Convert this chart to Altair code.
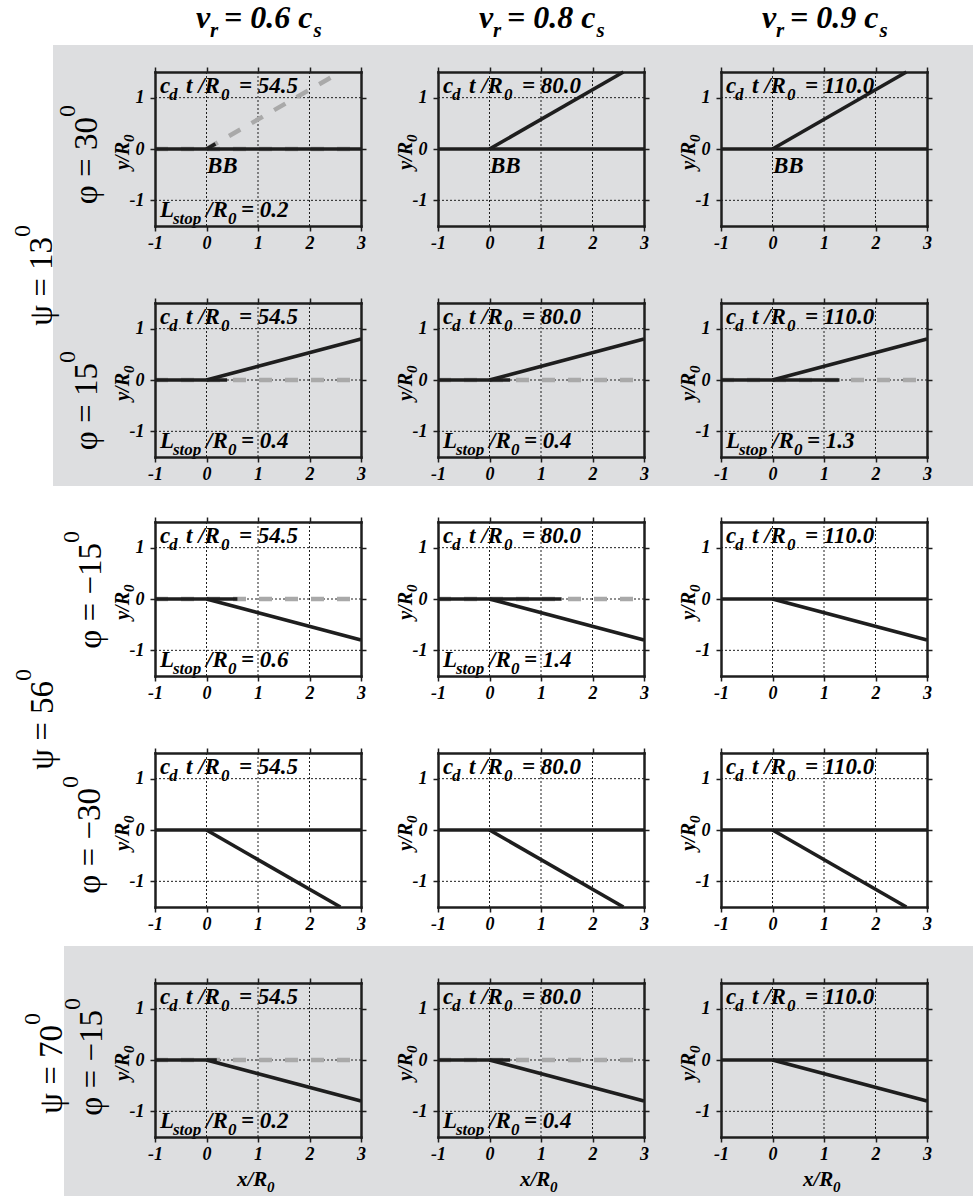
import math

import altair as alt
import pandas as pd

# ---- values ---------------------------------------------------------------
rupture_speed = ["0.6", "0.8", "0.9"]           # v_r / c_s, one per column
elapsed_time = ["54.5", "80.0", "110.0"]         # c_d t / R_0, one per column
row_psi = [13, 13, 56, 56, 70]                   # psi (degrees), one per row
row_phi = [30, 15, -15, -30, -15]                # phi (degrees), one per row
branch_end_x = [2.6, 3.0, 3.0, 2.6, 3.0]         # where the branch leaves the frame
branch_end_y = [1.5, 0.8, -0.8, -1.5, -0.8]
stop_length = [                                   # L_stop / R_0 (None: rupture kept going)
    [0.2, None, None],
    [0.4, 0.4, 1.3],
    [0.6, 1.4, None],
    [None, None, None],
    [0.2, 0.4, None],
]
stopping_fault = ["branch", "main", "main", "main", "main"]
bb_rows = [0]
x_ticks = [-1, 0, 1, 2, 3]
y_ticks = [-1, 0, 1]
grid_x = [0, 1, 2]
grid_y = [-1, 0, 1]
x_domain = [-1, 3]
y_domain = [-1.5, 1.5]
main_fault_x = [-1, 3]

# ---- layout ---------------------------------------------------------------
W, H = 973, 1196
PW, PH = 206, 154
COL_X = [155, 438, 721]
ROW_Y = [72, 303, 522, 753, 983]
FONT = "'Times New Roman', 'Liberation Serif', 'DejaVu Serif', serif"
INK = "#1e1e1e"
GRAY = "#a9a9a9"
BAND = "#dddee0"

# Times bold-italic advance widths (per em) for placing subscripts
BI_WIDTH = {" ": .25, "-": .333, ".": .25, "/": .278, "=": .57, "B": .667, "L": .611,
            "R": .667, "c": .444, "d": .5, "o": .5, "p": .5, "s": .389, "t": .278,
            "r": .389, "v": .444, "x": .5, "y": .444}


def text_width(s, size):
    return sum(BI_WIDTH.get(ch, .5) for ch in s) * size


pieces = []


def put(text, x, y, size, angle=0, align="left", style="bi"):
    pieces.append(dict(text=text, px=x, py=y, size=size, angle=angle,
                       align=align, style=style))


# column headers: v_r = 0.6 c_s
for c, speed in enumerate(rupture_speed):
    left = COL_X[c] + PW / 2 - 62
    put("v", left, 28, 32)
    put("r", left + 14, 37, 21)
    body = f"= {speed} c"
    put(body, left + 28, 28, 32)
    put("s", left + 28 + text_width(body, 32) + 1, 37, 21)

# psi labels (one per group of rows) and phi labels (one per row)
psi_groups = [(row_psi[0], 52, 237), (row_psi[2], 53, 681), (row_psi[4], 62, 1025)]
for value, jx, jy in psi_groups:
    put(f"\u03c8 = {value}", jx, jy, 33, 270, "right", "reg")
    put("0", jx - 22, jy, 24, 270, "left", "reg")

phi_junction = [(97, 117), (97, 363), (101, 543), (100, 788), (102, 1010)]
for r, (jx, jy) in enumerate(phi_junction):
    v = row_phi[r]
    txt = f"\u03c6 = {v}" if v >= 0 else f"\u03c6 = \u2212{abs(v)}"
    put(txt, jx, jy, 33, 270, "right", "reg")
    put("0", jx - 22, jy, 24, 270, "left", "reg")


def axis(orient, values, offset, labels):
    kw = dict(orient=orient, values=values, offset=offset, title=None, grid=False,
              labels=labels, domainColor=INK, domainWidth=2.5, domainCap="square",
              tickColor=INK, tickWidth=1.5, tickSize=5, zindex=1)
    if labels:
        kw.update(labelFont=FONT, labelFontStyle="italic", labelFontWeight="bold",
                  labelFontSize=18, labelColor="black", labelFlush=False,
                  labelOverlap=False, labelBound=False,
                  labelPadding=3 if orient == "bottom" else 6,
                  labelExpr="datum.value < 0 ? '-' + abs(datum.value) : '' + datum.value")
    return alt.Axis(**kw)


def panel(r, c):
    x0, y0 = COL_X[c], ROW_Y[r]
    xs = alt.Scale(domain=x_domain, range=[x0, x0 + PW], nice=False, zero=False)
    ys = alt.Scale(domain=y_domain, range=[y0 + PH, y0], nice=False, zero=False)

    vg = pd.DataFrame({"g": grid_x, "lo": y_domain[0], "hi": y_domain[1]})
    hg = pd.DataFrame({"g": grid_y, "lo": x_domain[0], "hi": x_domain[1]})
    grid_style = dict(color=INK, strokeWidth=1, strokeDash=[2, 2])
    vgrid = alt.Chart(vg).mark_rule(**grid_style).encode(
        x=alt.X("g:Q", scale=xs, axis=axis("bottom", x_ticks, y0 + PH - H, True)),
        y=alt.Y("lo:Q", scale=ys, axis=axis("left", y_ticks, -x0, True)),
        y2="hi:Q",
    )
    hgrid = alt.Chart(hg).mark_rule(**grid_style).encode(
        y=alt.Y("g:Q", scale=ys, axis=axis("right", y_ticks, x0 + PW - W, False)),
        x=alt.X("lo:Q", scale=xs, axis=axis("top", x_ticks, -y0, False)),
        x2="hi:Q",
    )

    # fault segments: main fault along y = 0, branch from the origin
    L = stop_length[r][c]
    ex, ey = branch_end_x[r], branch_end_y[r]
    main = (main_fault_x[0], 0, main_fault_x[1], 0)
    branch = (0, 0, ex, ey)
    gray, black = [], []
    if L is None:
        black += [main, branch]
    elif stopping_fault[r] == "main":
        gray += [main]
        black += [(main_fault_x[0], 0, L, 0), branch]
    else:
        a = math.radians(row_phi[r])
        gray += [main, branch]
        black += [main, (0, 0, L * math.cos(a), L * math.sin(a))]

    layers = [vgrid, hgrid]
    for segs, style in ((gray, dict(color=GRAY, strokeWidth=4.5, strokeDash=[13, 13])),
                        (black, dict(color=INK, strokeWidth=3.6))):
        if not segs:
            continue
        df = pd.DataFrame(segs, columns=["x1", "y1", "x2", "y2"])
        layers.append(alt.Chart(df).mark_rule(**style).encode(
            x=alt.X("x1:Q", scale=xs, axis=None),
            y=alt.Y("y1:Q", scale=ys, axis=None),
            x2="x2:Q", y2="y2:Q",
        ))

    # in-panel annotations
    put("c", x0 + 5, y0 + 21, 23)
    put("d", x0 + 14, y0 + 28, 17)
    put("t /R", x0 + 31, y0 + 21, 23)
    put("0", x0 + 66, y0 + 28, 17)
    put(f"= {elapsed_time[c]}", x0 + 84, y0 + 21, 23)
    if L is not None:
        put("L", x0 + 5, y0 + 145, 23)
        put("stop", x0 + 18, y0 + 152, 17)
        put("/R", x0 + 51, y0 + 145, 23)
        put("0", x0 + 73, y0 + 152, 17)
        put(f"= {L}", x0 + 86, y0 + 145, 23)
    if r in bb_rows:
        put("BB", x0 + 52, y0 + 101, 23)
    put("y/R", x0 - 26, y0 + 70, 20, 270, "right")
    put("0", x0 - 21, y0 + 70, 15, 270, "left")
    if r == len(ROW_Y) - 1:
        put("x/R", x0 + 82, y0 + 203, 21)
        put("0", x0 + 112, y0 + 209, 15)

    return alt.layer(*layers).resolve_axis(x="independent", y="independent")


panels = [panel(r, c) for r in range(len(ROW_Y)) for c in range(len(COL_X))]

bands = pd.DataFrame({"x1": [53, 64], "x2": [W, W], "y1": [45, 946], "y2": [486, H]})
band_layer = alt.Chart(bands).mark_rect(color=BAND).encode(
    x=alt.X("x1:Q", scale=None), x2="x2:Q",
    y=alt.Y("y1:Q", scale=None), y2="y2:Q",
)

tx = pd.DataFrame(pieces)
text_layers = []
for (angle, align, style), grp in tx.groupby(["angle", "align", "style"]):
    extra = dict(fontStyle="italic", fontWeight="bold") if style == "bi" else {}
    text_layers.append(
        alt.Chart(grp.reset_index(drop=True)).mark_text(
            align=align, baseline="alphabetic", angle=int(angle), font=FONT,
            color="black", **extra,
        ).encode(
            x=alt.X("px:Q", scale=None),
            y=alt.Y("py:Q", scale=None),
            text="text:N",
            size=alt.Size("size:Q", scale=None, legend=None),
        )
    )

chart = (
    alt.layer(band_layer, *panels, *text_layers)
    .resolve_scale(x="independent", y="independent")
    .properties(width=W, height=H, padding=0,
                autosize=alt.AutoSizeParams(type="none"))
    .configure_view(stroke=None)
)

chart.save("out.html", embed_options={"renderer": "svg", "actions": False})
